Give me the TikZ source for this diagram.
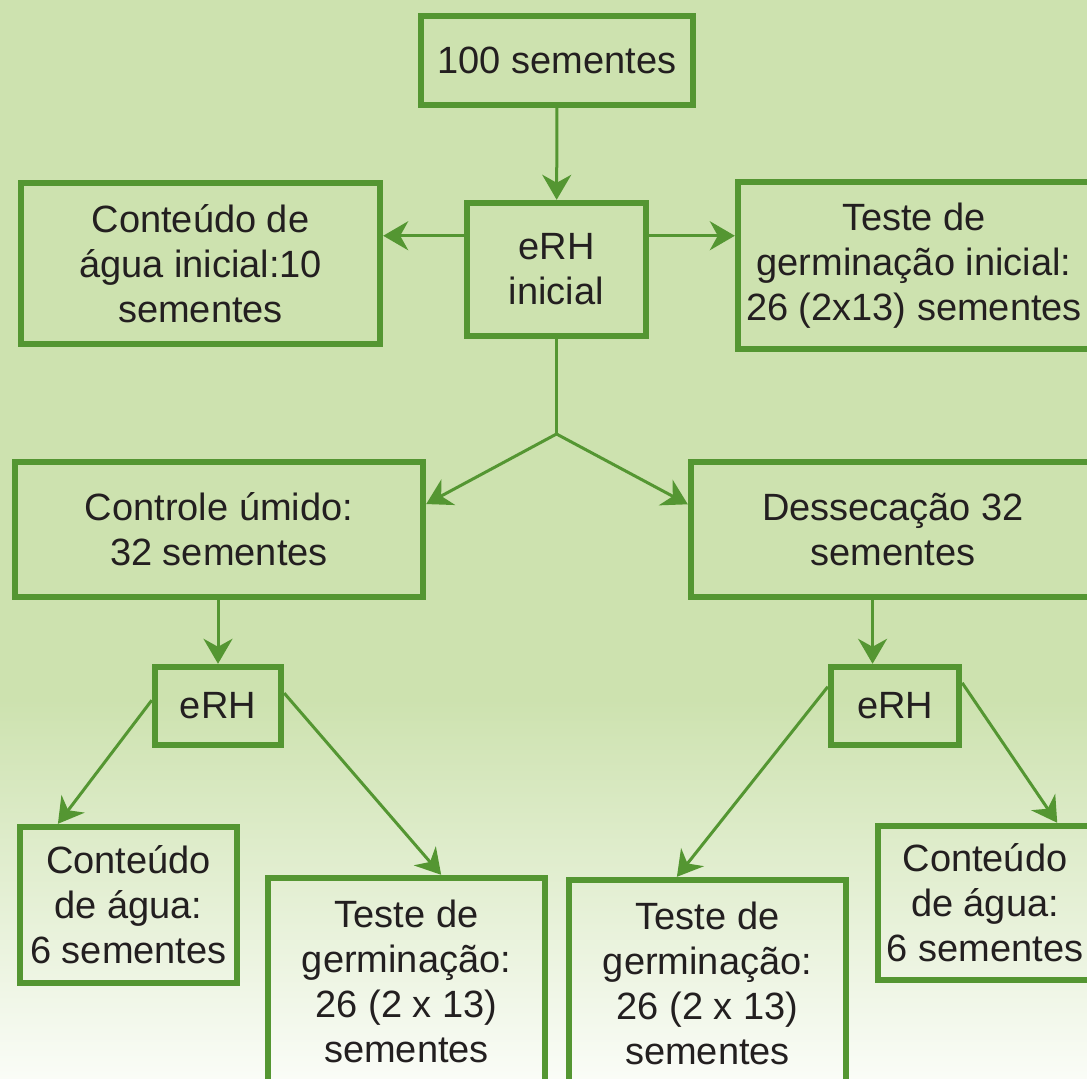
\documentclass[tikz,border=0pt]{standalone}
\usepackage{fontspec}
\setmainfont{Liberation Sans}
\usepackage{tikz}
\usetikzlibrary{arrows.meta}

\definecolor{bgGreen}{RGB}{205,226,175}
\definecolor{boxGreen}{RGB}{84,150,50}
\definecolor{txt}{RGB}{35,31,32}

\begin{document}
\begin{tikzpicture}[
      x=0.5pt, y=-0.5pt,
      box/.style={rectangle, draw=boxGreen, line width=3.2pt, outer sep=1.6pt, inner sep=0pt,
                  align=center, text=txt, font=\fontsize{19}{22.5}\selectfont},
      line/.style={draw=boxGreen, line width=1.5pt, -{Stealth[length=12.5pt,width=14.5pt,inset=4pt]}}
    ]
    \useasboundingbox (0,0) rectangle (1087,1079);
    \clip (0,0) rectangle (1087,1079);
    % background
    \fill[bgGreen] (0,0) rectangle (1087,700);
    \shade[top color=bgGreen, bottom color=bgGreen!10!white] (0,699) rectangle (1087,1079);

    % first level
    \node[box, minimum width=136pt, minimum height=44.5pt] (n100) at (557,60.5) {100 sementes};
    \node[box, minimum width=89.5pt, minimum height=66.5pt] (erh0) at (556.5,269.5) {eRH\\inicial};
    \node[box, minimum width=179.5pt, minimum height=80.5pt] (agua0) at (200.5,263.5) {Conteúdo de\\água inicial:10\\sementes};
    \node[box, minimum width=176pt, minimum height=83.5pt] (germ0) at (914,265.5) {Teste de\\germinação inicial:\\26 (2x13) sementes};
    \draw[line] (n100) -- (erh0);
    \draw[line] (erh0.160) -- (agua0.east |- erh0.160);
    \draw[line] (erh0.20) -- (germ0.west |- erh0.20);

    % second level
    \node[box, minimum width=204pt, minimum height=67.5pt] (umido) at (219,529.5) {Controle úmido:\\32 sementes};
    \node[box, minimum width=202pt, minimum height=67.5pt] (desse) at (893,529.5) {Dessecação 32\\sementes};
    \coordinate (split) at (556.5,434);
    \draw[draw=boxGreen, line width=1.5pt] (erh0.south) -- (split);
    \draw[line] (split) -- (umido.7);
    \draw[line] (split) -- (desse.173);

    % third level
    \node[box, minimum width=63pt, minimum height=39pt] (erhL) at (218,706) {eRH};
    \node[box, minimum width=64pt, minimum height=39pt] (erhR) at (895,706) {eRH};
    \draw[line] (umido.south -| erhL.north) -- (erhL.north);
    \draw[line] (desse.south -| erhR.118) -- (erhR.118);

    % bottom row
    \node[box, minimum width=108.5pt, minimum height=78pt] (aguaL) at (128.5,905) {Conteúdo\\de água:\\6 sementes};
    \node[box, minimum width=138.5pt, minimum height=103.5pt] (germL) at (406.5,981.5) {Teste de\\germinação:\\26 (2 x 13)\\sementes};
    \node[box, minimum width=138.5pt, minimum height=103.5pt] (germR) at (707.5,983.5) {Teste de\\germinação:\\26 (2 x 13)\\sementes};
    \node[box, minimum width=107pt, minimum height=77pt] (aguaR) at (985,903) {Conteúdo\\de água:\\6 sementes};
    \draw[line] (erhL.175) -- (aguaL.131);
    \draw[line] (erhL.11) -- (germL.72);
    \draw[line] (erhR.164) -- (germR.106);
    \draw[line] (erhR.19) -- (aguaR.48);
  \end{tikzpicture}
\end{document}
